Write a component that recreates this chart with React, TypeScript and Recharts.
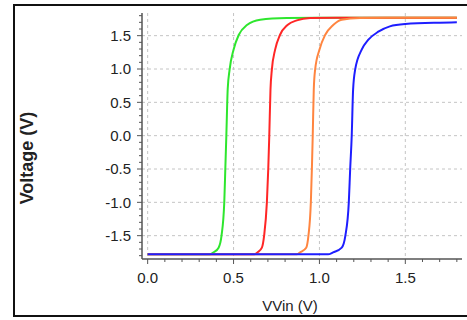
import { CartesianGrid, Line, LineChart, XAxis, YAxis } from 'recharts'

// tick positions (every 0.1 V), labelled ticks are the majors
const xTicks = [0, 0.1, 0.2, 0.3, 0.4, 0.5, 0.6, 0.7, 0.8, 0.9, 1.0, 1.1, 1.2, 1.3, 1.4, 1.5, 1.6, 1.7, 1.8]
const yTicks = [
  -1.8, -1.7, -1.6, -1.5, -1.4, -1.3, -1.2, -1.1, -1.0, -0.9, -0.8, -0.7, -0.6, -0.5, -0.4, -0.3, -0.2, -0.1,
  0, 0.1, 0.2, 0.3, 0.4, 0.5, 0.6, 0.7, 0.8, 0.9, 1.0, 1.1, 1.2, 1.3, 1.4, 1.5, 1.6, 1.7, 1.8,
]
const xMajor = [0, 0.5, 1.0, 1.5]
const yMajor = [-1.5, -1.0, -0.5, 0, 0.5, 1.0, 1.5]

// sweep curves: input voltage -> output voltage
const greenVin = [0, 0.36, 0.384, 0.413, 0.43, 0.446, 0.452, 0.458, 0.466, 0.477, 0.5, 0.53, 0.578, 0.655, 0.81, 1.0, 1.8]
const greenVout = [-1.78, -1.78, -1.75, -1.68, -1.5, -1.0, -0.5, 0, 0.7, 0.99, 1.29, 1.51, 1.66, 1.74, 1.765, 1.77, 1.77]

const redVin = [0, 0.62, 0.64, 0.665, 0.678, 0.694, 0.702, 0.708, 0.715, 0.723, 0.742, 0.77, 0.814, 0.868, 0.946, 1.1, 1.8]
const redVout = [-1.78, -1.78, -1.75, -1.68, -1.5, -1.0, -0.5, 0, 0.69, 0.99, 1.29, 1.51, 1.66, 1.73, 1.765, 1.77, 1.77]

const orangeVin = [0, 0.87, 0.888, 0.923, 0.936, 0.95, 0.956, 0.961, 0.967, 0.975, 1.0, 1.033, 1.08, 1.13, 1.237, 1.4, 1.8]
const orangeVout = [-1.78, -1.78, -1.75, -1.68, -1.5, -1.0, -0.5, 0, 0.69, 0.99, 1.29, 1.51, 1.66, 1.74, 1.765, 1.77, 1.77]

const blueVin = [0, 1.05, 1.08, 1.13, 1.151, 1.171, 1.179, 1.188, 1.196, 1.208, 1.246, 1.285, 1.343, 1.41, 1.5, 1.7, 1.8]
const blueVout = [-1.78, -1.78, -1.75, -1.68, -1.5, -1.0, -0.5, 0, 0.69, 0.99, 1.29, 1.44, 1.56, 1.64, 1.675, 1.695, 1.7]

const FONT = '"Liberation Sans", Arial, sans-serif'
const TEXT = '#222'
const AXIS = '#555'

const toPoints = (vin: number[], vout: number[]) => vin.map((x, i) => ({ vin: x, vout: vout[i] }))
const isMajor = (v: number, majors: number[]) => majors.some((m) => Math.abs(m - v) < 1e-6)

const Y_MARGIN = 11
const X_MARGIN = 13

function YTick({ x, y, payload }: any) {
  const axisX = x + Y_MARGIN
  const major = isMajor(payload.value, yMajor)
  return (
    <g>
      <line x1={axisX - (major ? 5 : 3)} x2={axisX} y1={y} y2={y} stroke={AXIS} />
      {major && (
        <text x={x} y={y} dy="0.36em" textAnchor="end" fontSize={15} fontFamily={FONT} fill={TEXT}>
          {payload.value.toFixed(1)}
        </text>
      )}
    </g>
  )
}

function XTick({ x, y, payload }: any) {
  const axisY = y - X_MARGIN
  const major = isMajor(payload.value, xMajor)
  return (
    <g>
      <line x1={x} x2={x} y1={axisY} y2={axisY + (major ? 5 : 3)} stroke={AXIS} />
      {major && (
        <text x={x} y={y} dy="0.71em" textAnchor="middle" fontSize={15} fontFamily={FONT} fill={TEXT}>
          {payload.value.toFixed(1)}
        </text>
      )}
    </g>
  )
}

function YLabel({ viewBox }: any) {
  const cx = viewBox.x + 27
  const cy = viewBox.y + viewBox.height / 2 + 22
  return (
    <text
      x={cx}
      y={cy}
      transform={`rotate(-90, ${cx}, ${cy})`}
      textAnchor="middle"
      dominantBaseline="central"
      fontSize={18}
      fontWeight="bold"
      fontFamily={FONT}
      fill={TEXT}
    >
      Voltage (V)
    </text>
  )
}

function XLabel({ viewBox }: any) {
  const cx = viewBox.x + viewBox.width / 2 - 12
  const cy = viewBox.y + 46
  return (
    <text x={cx} y={cy} textAnchor="middle" dominantBaseline="central" fontSize={15} fontFamily={FONT} fill={TEXT}>
      VVin (V)
    </text>
  )
}

const xDomain = [-0.033, 1.83]
const yDomain = [-1.85, 1.84]

export default function App() {
  return (
    <div style={{ position: 'absolute', left: 0, top: 0, width: 467, height: 320, background: '#fff', overflow: 'hidden' }}>
      <LineChart width={467} height={320} margin={{ top: 13, right: 5, left: 0, bottom: 0 }}>
        <CartesianGrid
          stroke="#c4c4c4"
          strokeDasharray="3 3"
          horizontalValues={yMajor}
          verticalValues={xMajor}
        />
        <XAxis
          type="number"
          dataKey="vin"
          domain={xDomain}
          allowDataOverflow
          ticks={xTicks}
          interval={0}
          tickSize={0}
          tickMargin={X_MARGIN}
          tick={<XTick />}
          height={61}
          axisLine={{ stroke: AXIS, strokeWidth: 1.5 }}
          label={<XLabel />}
        />
        <XAxis
          xAxisId="top"
          orientation="top"
          type="number"
          domain={xDomain}
          allowDataOverflow
          height={0}
          tick={false}
          tickLine={false}
          axisLine={{ stroke: '#808080', strokeWidth: 1.5 }}
        />
        <YAxis
          type="number"
          domain={yDomain}
          allowDataOverflow
          ticks={yTicks}
          interval={0}
          tickSize={0}
          tickMargin={Y_MARGIN}
          tick={<YTick />}
          width={142}
          axisLine={{ stroke: AXIS, strokeWidth: 1.5 }}
          label={<YLabel />}
        />
        <YAxis
          yAxisId="right"
          orientation="right"
          type="number"
          domain={yDomain}
          allowDataOverflow
          width={0}
          tick={false}
          tickLine={false}
          axisLine={{ stroke: '#808080', strokeWidth: 1.5 }}
        />
        <Line data={toPoints(greenVin, greenVout)} dataKey="vout" type="monotone" stroke="#2ee62e" strokeWidth={2} dot={false} isAnimationActive={false} />
        <Line data={toPoints(redVin, redVout)} dataKey="vout" type="monotone" stroke="#ff2626" strokeWidth={2} dot={false} isAnimationActive={false} />
        <Line data={toPoints(orangeVin, orangeVout)} dataKey="vout" type="monotone" stroke="#ff8540" strokeWidth={2} dot={false} isAnimationActive={false} />
        <Line data={toPoints(blueVin, blueVout)} dataKey="vout" type="monotone" stroke="#1e1eff" strokeWidth={2} dot={false} isAnimationActive={false} />
      </LineChart>
      <div
        style={{
          position: 'absolute',
          left: 13,
          top: 4,
          width: 470,
          height: 313,
          border: '2px solid #111',
          boxSizing: 'border-box',
          pointerEvents: 'none',
        }}
      />
    </div>
  )
}
